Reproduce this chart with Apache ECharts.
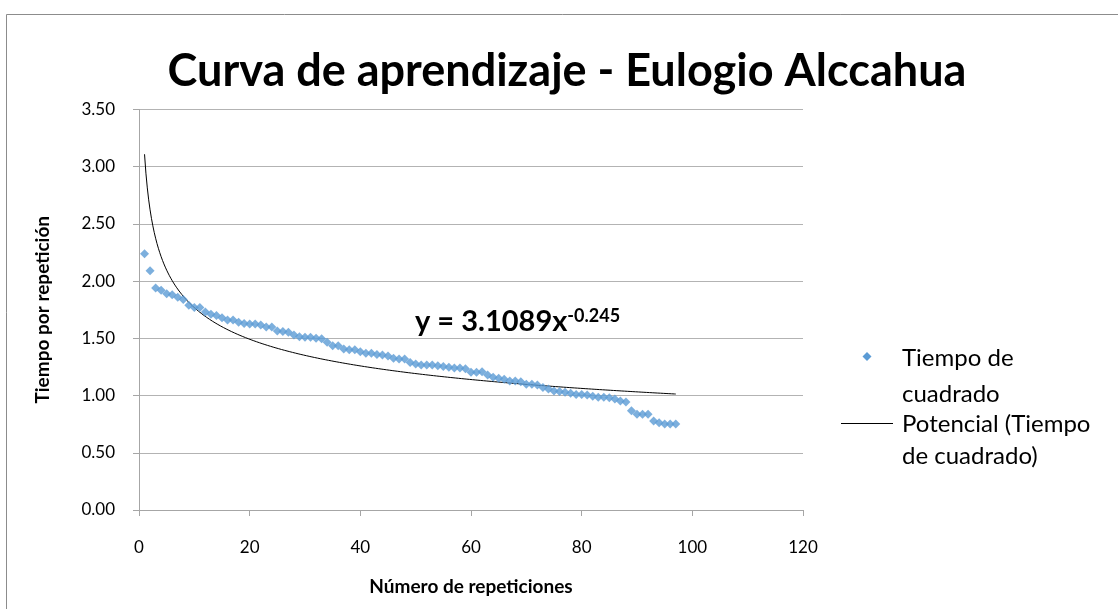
<!DOCTYPE html>
<html>
<head>
<meta charset="utf-8">
<script src="https://cdn.jsdelivr.net/npm/echarts@6/dist/echarts.min.js"></script>
<style>html,body{margin:0;padding:0;background:#fff;}#c{width:1118px;height:609px;}</style>
</head>
<body>
<div id="c"></div>
<script>
const TITLE = 'Curva de aprendizaje - Eulogio Alccahua';
const X_NAME = 'Número de repeticiones';
const Y_NAME = 'Tiempo por repetición';
const SERIES_NAME = 'Tiempo de cuadrado';
const TREND_NAME = 'Potencial (Tiempo de cuadrado)';
// repetition numbers 1..97
const repeticiones = [
  1,2,3,4,5,6,7,8,9,10,11,12,13,14,15,16,17,18,19,20,
  21,22,23,24,25,26,27,28,29,30,31,32,33,34,35,36,37,38,39,40,
  41,42,43,44,45,46,47,48,49,50,51,52,53,54,55,56,57,58,59,60,
  61,62,63,64,65,66,67,68,69,70,71,72,73,74,75,76,77,78,79,80,
  81,82,83,84,85,86,87,88,89,90,91,92,93,94,95,96,97
];
const tiempos = [
  2.24,2.09,1.94,1.92,1.89,1.88,1.86,1.84,1.79,1.77,
  1.77,1.73,1.71,1.70,1.68,1.66,1.66,1.64,1.63,1.625,
  1.625,1.617,1.60,1.60,1.565,1.56,1.553,1.53,1.515,1.51,
  1.51,1.50,1.497,1.466,1.436,1.436,1.407,1.40,1.40,1.384,
  1.37,1.37,1.36,1.355,1.346,1.326,1.32,1.32,1.289,1.276,
  1.268,1.268,1.268,1.26,1.253,1.247,1.241,1.241,1.235,1.204,
  1.204,1.209,1.18,1.16,1.151,1.143,1.128,1.128,1.12,1.10,
  1.10,1.093,1.07,1.058,1.04,1.035,1.03,1.02,1.01,1.01,
  1.005,0.993,0.985,0.985,0.98,0.97,0.953,0.944,0.868,0.836,
  0.836,0.836,0.778,0.763,0.752,0.752,0.752
];
// Fitted power trend shown on the chart: y = 3.1089 x^-0.245
const TREND_A = 3.1089;
const TREND_B = -0.245;
const EQUATION_MAIN = 'y = 3.1089x';
const EQUATION_EXP = '-0.245';
const yTicks = ['0.00','0.50','1.00','1.50','2.00','2.50','3.00','3.50'];
const xTicks = ['0','20','40','60','80','100','120'];

const trend = [];
for (let x = repeticiones[0]; x <= repeticiones[repeticiones.length-1] + 1e-9; x += 0.25) {
  trend.push([x, TREND_A * Math.pow(x, TREND_B)]);
}
const scatterData = repeticiones.map((r, i) => [r, tiempos[i]]);

const FONT = 'Lato';
const chart = echarts.init(document.getElementById('c'));
chart.setOption({
  animation: false,
  backgroundColor: '#ffffff',
  title: {
    text: TITLE, left: 562, top: 44, textAlign: 'center',
    textStyle: { fontFamily: FONT, fontWeight: 'bold', fontSize: 45, color: '#000' }
  },
  grid: { left: 139, right: 315, top: 109.5, bottom: 99, containLabel: false },
  xAxis: {
    type: 'value', min: 0, max: 120, interval: 20,
    name: X_NAME, nameLocation: 'middle', nameGap: 67,
    nameTextStyle: { fontFamily: FONT, fontWeight: 'bold', fontSize: 19, color: '#000' },
    axisLine: { show: true, lineStyle: { color: '#a6a6a6', width: 1 } },
    axisTick: { show: true, length: 6, lineStyle: { color: '#a6a6a6' } },
    axisLabel: { fontFamily: FONT, fontSize: 17, color: '#000', margin: 29,
      formatter: v => xTicks[Math.round(v / 20)] },
    splitLine: { show: false }
  },
  yAxis: {
    type: 'value', min: 0, max: 3.5, interval: 0.5,
    name: Y_NAME, nameLocation: 'middle', nameGap: 87, nameRotate: 90,
    nameTextStyle: { fontFamily: FONT, fontWeight: 'bold', fontSize: 19, color: '#000' },
    axisLine: { show: true, lineStyle: { color: '#a6a6a6', width: 1 } },
    axisTick: { show: true, length: 6, lineStyle: { color: '#a6a6a6' } },
    axisLabel: { fontFamily: FONT, fontSize: 17, color: '#000', margin: 24,
      formatter: v => yTicks[Math.round(v / 0.5)] },
    splitLine: { show: true, lineStyle: { color: '#b3b3b3', width: 1 } }
  },
  series: [
    {
      name: SERIES_NAME, type: 'scatter', data: scatterData,
      symbol: 'diamond', symbolSize: 9,
      itemStyle: { color: '#5b9bd5' }, z: 3
    },
    {
      name: TREND_NAME, type: 'line', data: trend, showSymbol: false, symbol: 'none',
      lineStyle: { color: '#000', width: 1 }, z: 2
    }
  ],
  graphic: [
    { type: 'rect', left: 4, top: 12, silent: true,
      shape: { width: 1130, height: 620 },
      style: { fill: 'none', stroke: '#8c8c8c', lineWidth: 1 } },
    { type: 'text', left: 415, top: 307, silent: true,
      style: {
        text: '{m|' + EQUATION_MAIN + '}{s|' + EQUATION_EXP + '}',
        rich: {
          m: { fontFamily: FONT, fontWeight: 'bold', fontSize: 29, fill: '#000', verticalAlign: 'bottom' },
          s: { fontFamily: FONT, fontWeight: 'bold', fontSize: 18, fill: '#000', verticalAlign: 'top' }
        }
      } },
    // legend
    { type: 'polygon', silent: true,
      shape: { points: [[867, 352], [871.5, 356.5], [867, 361], [862.5, 356.5]] },
      style: { fill: '#5b9bd5' } },
    { type: 'text', left: 902, top: 340, silent: true,
      style: { text: 'Tiempo de\ncuadrado', fontFamily: FONT, fontSize: 24, lineHeight: 36, fill: '#000' } },
    { type: 'line', silent: true, shape: { x1: 841, y1: 423.5, x2: 893, y2: 423.5 },
      style: { stroke: '#000', lineWidth: 1 } },
    { type: 'text', left: 902, top: 408, silent: true,
      style: { text: 'Potencial (Tiempo\nde cuadrado)', fontFamily: FONT, fontSize: 24, lineHeight: 32, fill: '#000' } }
  ]
});
</script>
</body>
</html>
